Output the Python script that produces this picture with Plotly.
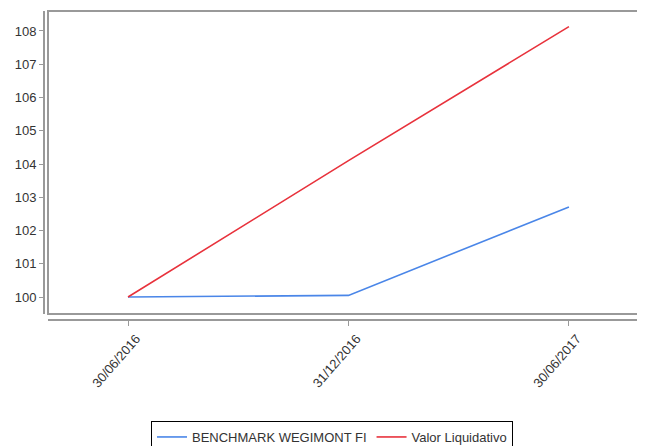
import plotly.graph_objects as go

dates = ["30/06/2016", "31/12/2016", "30/06/2017"]
benchmark = [100.0, 100.05, 102.71]
valor = [100.0, 104.1, 108.13]
y_ticks = [100, 101, 102, 103, 104, 105, 106, 107, 108]

# page body has an 8px margin, so the figure is sized/shifted to compensate
W, H = 637, 438
ml, mr, mt, mb = 36, 2, 3, 126
pw = W - ml - mr
ph = H - mt - mb
x0d = 4 / pw
y0d = 6 / ph

fig = go.Figure()
fig.add_trace(go.Scatter(x=[0, 1, 2], y=benchmark, mode="lines", name="BENCHMARK WEGIMONT FI",
                         line=dict(color="#4a86e8", width=1.6)))
fig.add_trace(go.Scatter(x=[0, 1, 2], y=valor, mode="lines", name="Valor Liquidativo",
                         line=dict(color="#e8323c", width=1.6)))

fig.update_layout(
    width=W, height=H,
    margin=dict(l=ml, r=mr, t=mt, b=mb, autoexpand=False),
    paper_bgcolor="white", plot_bgcolor="white",
    font=dict(family="Liberation Sans, Arial, sans-serif", size=12, color="#333"),
    showlegend=True,
    legend=dict(orientation="h", x=(324 - 36) / pw, xanchor="center", y=(312 - 413) / ph, yanchor="top",
                bordercolor="#000", borderwidth=1, bgcolor="white",
                font=dict(size=13, color="#333"), itemwidth=30, tracegroupgap=0),
    xaxis=dict(domain=[x0d, 1], range=[-0.363, 2.336], tickmode="array", tickvals=[0, 1, 2],
               ticktext=dates, tickangle=-49, showgrid=False, zeroline=False, automargin=False,
               showline=True, linecolor="#999", linewidth=2, ticks="outside", ticklen=5,
               tickcolor="#999", anchor="free", position=0, ticklabelshift=8,
               tickfont=dict(size=13, color="#333")),
    yaxis=dict(domain=[y0d, 1], range=[99.49, 108.6], tickmode="array", tickvals=y_ticks,
               showgrid=False, zeroline=False, showline=True, linecolor="#999", linewidth=2,
               ticks="outside", ticklen=4, tickcolor="#999", anchor="free", position=0,
               automargin=False, tickfont=dict(size=13, color="#333")),
    hovermode=False,
)
fig.add_shape(type="rect", xref="paper", yref="paper", x0=x0d, x1=1, y0=y0d, y1=1,
              line=dict(color="#999", width=2), fillcolor="rgba(0,0,0,0)", layer="above")

fig.write_html("out.html", config={"displayModeBar": False})
